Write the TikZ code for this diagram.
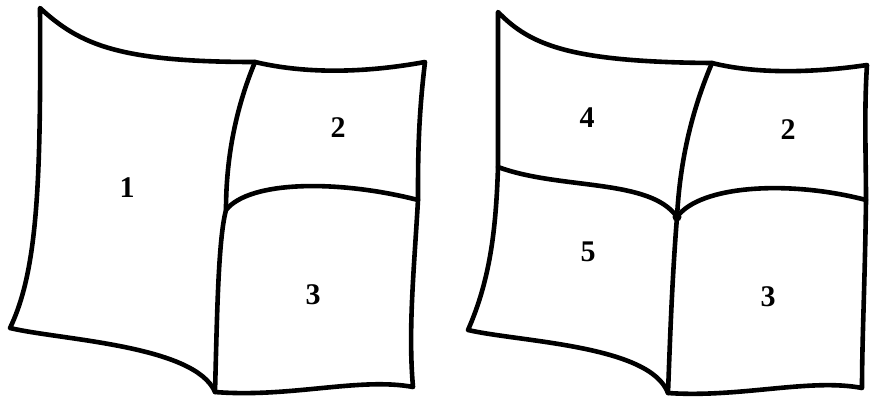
\documentclass[tikz,border=0pt]{standalone}
\usepackage{fontspec}
\setmainfont{Liberation Serif}
\begin{document}
\begin{tikzpicture}[x=1pt,y=-1pt,
  edge/.style={line width=4.6pt,line join=round,line cap=round,black},
  lbl/.style={font=\fontsize{30}{31}\selectfont\bfseries,inner sep=0pt}]
\useasboundingbox (0,0) rectangle (870,400);
% ---------- left figure ----------
\coordinate (A) at (40,8);
\coordinate (B) at (255,62);
\coordinate (C) at (425,62);
\coordinate (D) at (418,200);
\coordinate (E) at (226,210);
\coordinate (F) at (215,392);
\coordinate (G) at (413,387);
\coordinate (H) at (10,328);
\draw[edge] (A) .. controls (80,45) and (120,62) .. (B)
  .. controls (310,75) and (370,72) .. (C)
  .. controls (418,120) and (418,160) .. (D)
  .. controls (414,270) and (408,330) .. (G)
  .. controls (360,377) and (290,398) .. (F)
  .. controls (195,345) and (60,340) .. (H)
  .. controls (38,270) and (41,180) .. cycle;
\draw[edge] (B) .. controls (235,110) and (226,160) .. (E)
  .. controls (218,240) and (217,320) .. (F);
\draw[edge] (E) .. controls (250,180) and (340,180) .. (D);
\node[lbl] (n1) at (127,188) {1};
\node[lbl] (n2) at (338,128) {2};
\node[lbl] (n3) at (313,295) {3};
% ---------- right figure ----------
\coordinate (A2) at (498,12);
\coordinate (B2) at (712,63);
\coordinate (C2) at (867,65);
\coordinate (D2) at (866,200);
\coordinate (E2) at (677,217);
\coordinate (F2) at (668,393);
\coordinate (G2) at (862,388);
\coordinate (H2) at (468,330);
\coordinate (L2) at (498,167);
\draw[edge] (A2) .. controls (530,45) and (570,62) .. (B2)
  .. controls (760,75) and (820,72) .. (C2)
  .. controls (864,110) and (866,160) .. (D2)
  .. controls (865,280) and (862,340) .. (G2)
  .. controls (810,378) and (740,398) .. (F2)
  .. controls (650,345) and (520,342) .. (H2)
  .. controls (490,280) and (496,230) .. (L2)
  -- cycle;
\draw[edge] (B2) .. controls (692,110) and (680,160) .. (E2)
  .. controls (672,280) and (670,340) .. (F2);
\draw[edge] (L2) .. controls (560,190) and (650,178) .. (E2)
  .. controls (700,185) and (790,180) .. (D2);
\fill (E2) circle (4.5pt);
\node[lbl] (n4) at (587,118) {4};
\node[lbl] (n2b) at (788,130) {2};
\node[lbl] (n5) at (588,252) {5};
\node[lbl] (n3b) at (768,297) {3};
\end{tikzpicture}
\end{document}
